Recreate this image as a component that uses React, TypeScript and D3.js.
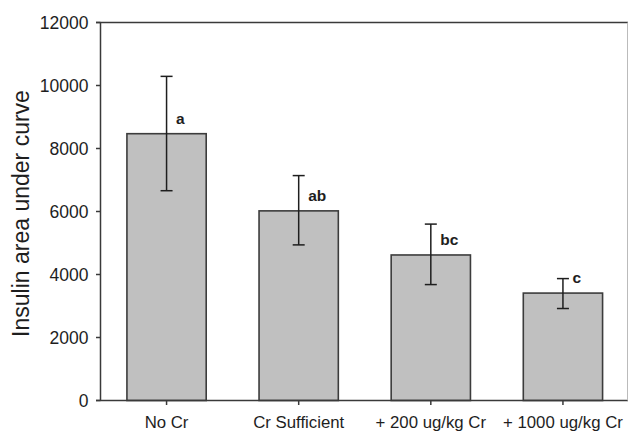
import React from "react";
import * as d3 from "d3";

const categories = ["No Cr", "Cr Sufficient", "+ 200 ug/kg Cr", "+ 1000 ug/kg Cr"];
const means = [8470, 6020, 4620, 3410];
const errUpper = [10290, 7140, 5600, 3870];
const errLower = [6660, 4940, 3680, 2920];
const letters = ["a", "ab", "bc", "c"];
const yTicks = [0, 2000, 4000, 6000, 8000, 10000, 12000];

const W = 628;
const H = 431;
const left = 100.5;
const right = 629;
const top = 22.5;
const bottom = 400.5;

export default function App() {
  const x = d3.scaleBand<string>().domain(categories).range([left, right]).paddingInner(0.4).paddingOuter(0.2);
  const y = d3.scaleLinear().domain([0, 12000]).range([bottom, top]);
  const bw = x.bandwidth();
  const font = "'Liberation Sans', Arial, Helvetica, sans-serif";
  const axisColor = "#3a3a3a";
  return (
    <svg width={W} height={H} style={{ position: "absolute", left: 0, top: 0, background: "#fff" }} fontFamily={font}>
      {/* bars */}
      {categories.map((c, i) => (
        <rect key={c} x={x(c)!} y={y(means[i])} width={bw} height={bottom - y(means[i])}
          fill="#c0c0c0" stroke="#3c3c3c" strokeWidth={1.6} />
      ))}
      {/* error bars */}
      {categories.map((c, i) => {
        const cx = x(c)! + bw / 2;
        return (
          <g key={"e" + c} stroke="#1e1e1e" strokeWidth={1.5}>
            <line x1={cx} x2={cx} y1={y(errUpper[i])} y2={y(errLower[i])} />
            <line x1={cx - 6} x2={cx + 6} y1={y(errUpper[i])} y2={y(errUpper[i])} />
            <line x1={cx - 6} x2={cx + 6} y1={y(errLower[i])} y2={y(errLower[i])} />
          </g>
        );
      })}
      {/* significance letters */}
      {categories.map((c, i) => (
        <text key={"l" + c} x={x(c)! + bw / 2 + 9.5} y={y(means[i]) - 10} fontSize={15.5} fontWeight="bold" fill="#1e1e1e">
          {letters[i]}
        </text>
      ))}
      {/* frame / axes */}
      <line x1={left} x2={left} y1={top} y2={bottom} stroke={axisColor} strokeWidth={1.5} />
      <line x1={96} x2={W} y1={bottom} y2={bottom} stroke={axisColor} strokeWidth={1.5} />
      <line x1={96} x2={W} y1={top} y2={top} stroke={axisColor} strokeWidth={1.5} />
      <line x1={627.5} x2={627.5} y1={top} y2={bottom} stroke="#bbb" strokeWidth={1} />
      {/* y ticks */}
      {yTicks.map((t) => (
        <g key={"t" + t}>
          <line x1={96} x2={left} y1={y(t)} y2={y(t)} stroke={axisColor} strokeWidth={1.5} />
          <text x={88.5} y={y(t)} dy="0.36em" textAnchor="end" fontSize={17.5} fill="#1e1e1e">{t}</text>
        </g>
      ))}
      {/* x ticks */}
      {categories.map((c) => {
        const cx = x(c)! + bw / 2;
        return (
          <g key={"x" + c}>
            <line x1={cx} x2={cx} y1={bottom} y2={bottom + 4.5} stroke={axisColor} strokeWidth={1.5} />
            <text x={cx} y={428} textAnchor="middle" fontSize={16.8} fill="#1e1e1e">{c}</text>
          </g>
        );
      })}
      <text transform={`translate(28.5,213.5) rotate(-90)`} textAnchor="middle" fontSize={23} fill="#1e1e1e">
        Insulin area under curve
      </text>
    </svg>
  );
}
